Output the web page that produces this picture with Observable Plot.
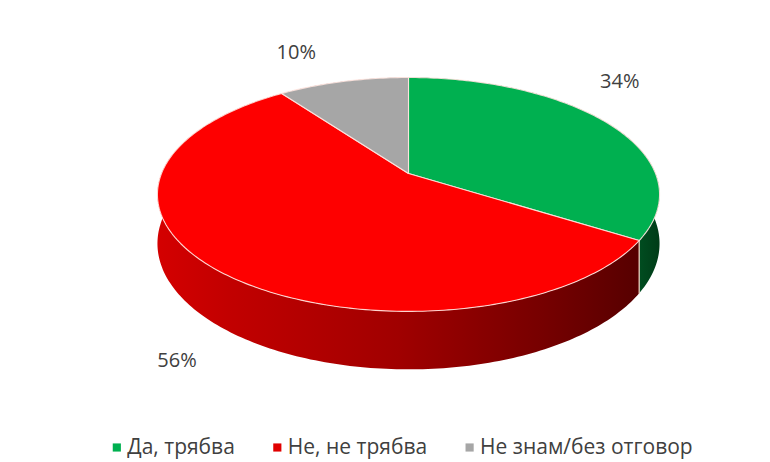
<!DOCTYPE html>
<html><head><meta charset="utf-8">
<script src="https://cdn.jsdelivr.net/npm/d3@7"></script>
<script src="https://cdn.jsdelivr.net/npm/@observablehq/plot@0.6"></script>
<style>body{margin:0;background:#fff;} #chart svg{display:block;}</style>
</head><body><div id="chart"></div>
<script>
// ---- data ----
const categories = ["Да, трябва", "Не, не трябва", "Не знам/без отговор"];
const shares = [34, 56, 10];
const percentLabels = ["34%", "56%", "10%"];
const topColors = ["#00b050", "#fe0000", "#a6a6a6"];
const legendColors = ["#00b050", "#e00000", "#a6a6a6"];
const sideFills = ["url(#sideGreen)", "url(#sideRed)", "#7f7f7f"];

// ---- layout ----
const W = 770, H = 462;
const cx = 408, cy = 173, RX = 247, RY = 113.2, K = 0.179, DEPTH = 47.6;
const FONT = "'Open Sans', 'DejaVu Sans', sans-serif";
// outward nudges for the percentage labels (Excel "best fit" placement)
const labelNudge = [[12, -42], [-37, 37], [-47, -29]];

function proj(a, f = 1, drop = 0) {
  const u = Math.sin(a) * f, v = -Math.cos(a) * f;
  const s = 1 / (1 - K * v);
  return {x: cx + RX * u * s, y: cy + RY * v * s + drop * s};
}

const total = d3.sum(shares);
let acc = 0;
const slices = shares.map((v, i) => {
  const a0 = acc / total * 2 * Math.PI; acc += v;
  const a1 = acc / total * 2 * Math.PI;
  return {i, a0, a1, mid: (a0 + a1) / 2};
});

function arcPts(a0, a1, drop) {
  const n = Math.max(8, Math.ceil((a1 - a0) / (Math.PI / 180)));
  return d3.range(n + 1).map(k => proj(a0 + (a1 - a0) * k / n, 1, drop));
}

const topFaces = slices.map(s => [proj(0, 0), ...arcPts(s.a0, s.a1, 0), proj(0, 0)]);
const sideFaces = slices.map(s => [...arcPts(s.a0, s.a1, 0), ...arcPts(s.a0, s.a1, DEPTH).reverse()]);

const edges = slices.filter(s => Math.cos(s.a0) < 0)
  .map(s => [proj(s.a0, 1, 0), proj(s.a0, 1, DEPTH)]);

const labelData = slices.map(s => {
  const front = Math.cos(s.mid) < 0;
  const p = proj(s.mid, 1, front ? DEPTH : 0);
  return {x: p.x + labelNudge[s.i][0], y: p.y + labelNudge[s.i][1], text: percentLabels[s.i]};
});

// legend layout from measured text widths
const LFS = 21;
const ctx = document.createElement("canvas").getContext("2d");
ctx.font = `${LFS}px ${FONT}`;
const widths = categories.map(c => ctx.measureText(c).width);
const gap = 38, sq = 15;
const legendWidth = d3.sum(widths) + categories.length * sq + (categories.length - 1) * gap;
let lx = 402 - legendWidth / 2;
const legendData = categories.map((c, i) => {
  const d = {sx: lx + 4.5, tx: lx + sq, y: 447, text: c, color: legendColors[i]};
  lx += sq + widths[i] + gap;
  return d;
});

const marks = [];
slices.forEach(s => {
  marks.push(Plot.line(sideFaces[s.i], {x: "x", y: "y", fill: sideFills[s.i], stroke: "none", curve: "linear"}));
});
edges.forEach(e => marks.push(Plot.line(e, {x: "x", y: "y", stroke: "#f4d8c8", strokeWidth: 1.2})));
slices.forEach(s => {
  marks.push(Plot.line(topFaces[s.i], {x: "x", y: "y", fill: topColors[s.i], stroke: "#ffe6e0", strokeWidth: 1.1, strokeOpacity: 0.9, curve: "linear"}));
});
marks.push(Plot.text(labelData, {x: "x", y: "y", text: "text", fontSize: 20, fill: "#404040", textAnchor: "middle", lineAnchor: "middle", fontFamily: FONT}));
marks.push(Plot.dot(legendData, {x: "sx", y: "y", symbol: "square", r: 4.6, fill: "color", stroke: "none"}));
marks.push(Plot.text(legendData, {x: "tx", y: "y", text: "text", fontSize: LFS, fill: "#404040", textAnchor: "start", lineAnchor: "middle", fontFamily: FONT}));

const chart = Plot.plot({
  width: W, height: H, margin: 0,
  style: {background: "#fff", fontFamily: FONT},
  x: {domain: [0, W], range: [0, W], axis: null},
  y: {domain: [0, H], range: [0, H], axis: null},
  color: {type: "identity"},
  marks
});

// gradients for the extruded side walls
const ns = "http://www.w3.org/2000/svg";
const defs = document.createElementNS(ns, "defs");
function grad(id, x1, x2, stops) {
  const g = document.createElementNS(ns, "linearGradient");
  g.setAttribute("id", id); g.setAttribute("gradientUnits", "userSpaceOnUse");
  g.setAttribute("x1", x1); g.setAttribute("x2", x2); g.setAttribute("y1", 0); g.setAttribute("y2", 0);
  stops.forEach(([o, c]) => {
    const st = document.createElementNS(ns, "stop");
    st.setAttribute("offset", o); st.setAttribute("stop-color", c); g.appendChild(st);
  });
  defs.appendChild(g);
}
grad("sideRed", cx - RX - 5, cx + RX - 15, [[0, "#d40000"], [0.15, "#c20000"], [0.5, "#a00000"], [0.8, "#760000"], [1, "#560000"]]);
grad("sideGreen", cx + RX - 30, cx + RX + 5, [[0, "#005826"], [1, "#003b17"]]);
chart.insertBefore(defs, chart.firstChild);

document.getElementById("chart").appendChild(chart);
</script>
</body></html>
